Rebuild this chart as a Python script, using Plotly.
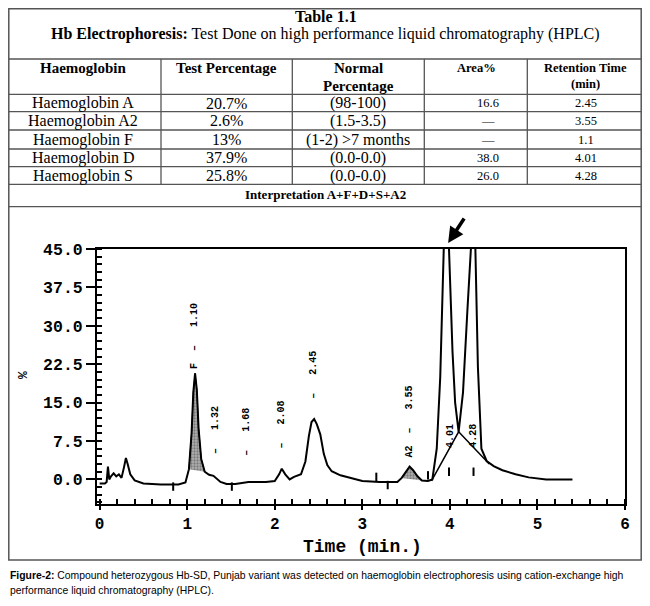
import numpy as np
import plotly.graph_objects as go

# ---- table data ----
table_title = "Table 1.1"
table_subtitle = "<b>Hb Electrophoresis:</b> Test Done on high performance liquid chromatography (HPLC)"
col_headers = ["Haemoglobin", "Test Percentage", "Normal<br>Percentage", "Area%", "Retention Time<br>(min)"]
hb_types = ["Haemoglobin A", "Haemoglobin A2", "Haemoglobin F", "Haemoglobin D", "Haemoglobin S"]
test_pct = ["20.7%", "2.6%", "13%", "37.9%", "25.8%"]
normal_pct = ["(98-100)", "(1.5-3.5)", "(1-2) >7 months", "(0.0-0.0)", "(0.0-0.0)"]
area_pct = ["16.6", "\u2014", "\u2014", "38.0", "26.0"]
retention_min = ["2.45", "3.55", "1.1", "4.01", "4.28"]
interpretation = "Interpretation A+F+D+S+A2"

# ---- chromatogram data ----
time_min = [0.00, 0.06, 0.08, 0.095, 0.11, 0.13, 0.16, 0.19, 0.22, 0.25, 0.28, 0.30, 0.32, 0.35,
            0.40, 0.50, 0.70, 0.90, 0.98, 1.02, 1.05, 1.07, 1.09, 1.11, 1.13, 1.16, 1.20, 1.25,
            1.30, 1.33, 1.38, 1.45, 1.55, 1.70, 1.90, 2.00, 2.05, 2.08, 2.12, 2.17, 2.22, 2.30,
            2.35, 2.39, 2.42, 2.45, 2.48, 2.52, 2.56, 2.60, 2.65, 2.75, 2.85, 3.00, 3.20, 3.40,
            3.45, 3.50, 3.54, 3.58, 3.63, 3.68, 3.75, 3.80, 3.85, 3.89, 3.93, 3.96, 3.99, 4.03,
            4.06, 4.10, 4.15, 4.20, 4.24, 4.26, 4.29, 4.32, 4.36, 4.42, 4.50, 4.60, 4.75, 4.90,
            5.10, 5.40]
signal_pct = [-0.8, -0.8, -0.5, 2.5, 0.0, 0.6, 1.2, 0.6, 1.0, 0.3, 2.5, 4.2, 3.0, 1.0,
              -0.2, -0.8, -1.0, -1.0, -0.6, 2.0, 9.0, 17.0, 20.7, 17.5, 10.0, 4.0, 1.5, 0.9,
              0.7, 0.3, -0.5, -0.9, -0.9, -0.5, -0.5, -0.3, 1.0, 2.1, 1.0, 0.0, 0.5, 1.0,
              3.5, 8.5, 11.2, 11.8, 10.8, 8.8, 5.0, 2.8, 1.6, 0.8, 0.3, -0.3, -0.5, -0.5,
              0.3, 1.6, 2.5, 1.8, 0.6, -0.2, -0.3, 0.0, 6.0, 20.0, 45.0, 80.0, 45.0, 25.0,
              15.0, 9.3, 17.0, 33.0, 45.0, 70.0, 45.0, 22.0, 6.0, 3.6, 2.6, 1.8, 1.0, 0.4,
              0.0, 0.0]

skim_t = [3.79, 4.10, 4.45]
skim_y = [-0.3, 9.3, 3.0]

mark_t = [0.84, 1.51, 3.16, 3.29, 3.75, 3.99, 4.27]
mark_y = [-1.4, -1.4, 0.5, -1.1, 0.8, 1.5, 1.5]

NB = "\u00a0"
peak_labels = ["F" + NB * 2 + "\u2013" + NB * 3 + "1.10", "\u2013" + NB * 3 + "1.32",
               "\u2013" + NB * 3 + "1.68", "\u2013" + NB * 3 + "2.08", "\u2013" + NB * 3 + "2.45",
               "A2" + NB * 2 + "\u2013" + NB * 3 + "3.55", "4.01", "4.28"]
label_t = [1.09, 1.33, 1.68, 2.08, 2.44, 3.54, 4.00, 4.27]
label_y = [21.2, 4.6, 4.2, 5.6, 15.4, 3.8, 5.7, 5.7]

caption_1 = ("<b>Figure-2:</b> Compound heterozygous Hb-SD, Punjab variant was detected on haemoglobin "
             "electrophoresis using cation-exchange high")
caption_2 = "performance liquid chromatography (HPLC)."

# the page body adds an 8px margin, so the figure is 16px smaller than the window
OFF = 8
W, H = 650 - 2 * OFF, 606 - 2 * OFF


def px(x):
    return (x - OFF) / W


def py(y):
    return 1 - (y - OFF) / H


serif = "Liberation Serif, Times New Roman, serif"
mono = "Liberation Mono, Courier New, monospace"
narrow = "Liberation Sans Narrow, Arial Narrow, Liberation Sans, sans-serif"

fig = go.Figure()

t_arr = np.array(time_min)
s_arr = np.array(signal_pct)
for lo, hi in [(1.0, 1.21), (3.44, 3.69)]:
    m = (t_arr >= lo) & (t_arr <= hi)
    fig.add_trace(go.Scatter(x=t_arr[m], y=s_arr[m], mode="lines", fill="toself",
                             line=dict(color="black", width=1),
                             fillcolor="#aaaaaa",
                             fillpattern=dict(shape=".", fgcolor="#444444", bgcolor="#b0b0b0",
                                              size=3, solidity=0.45),
                             showlegend=False, hoverinfo="skip"))

fig.add_trace(go.Scatter(x=time_min, y=signal_pct, mode="lines",
                         line=dict(color="black", width=2), showlegend=False))
fig.add_trace(go.Scatter(x=skim_t, y=skim_y, mode="lines",
                         line=dict(color="black", width=1.5), showlegend=False))
fig.add_trace(go.Scatter(x=mark_t, y=mark_y, mode="markers",
                         marker=dict(symbol="line-ns", size=6, line=dict(width=2, color="black")),
                         showlegend=False))

ann = []
for txt, t, y in zip(peak_labels, label_t, label_y):
    ann.append(dict(x=t, y=y, xref="x", yref="y", text=txt, textangle=-90, showarrow=False,
                    xanchor="center", yanchor="bottom",
                    font=dict(family=mono, size=10, color="black", weight="bold")))

# arrow over the D peak
ann.append(dict(x=3.98, y=py(243), xref="x", yref="paper", text="", showarrow=True, arrowhead=2,
                arrowsize=0.9, arrowwidth=3.5, arrowcolor="black", ax=17, ay=-26))


def note(x, y, text, font, **kw):
    d = dict(x=px(x), y=py(y), xref="paper", yref="paper", text=text, showarrow=False,
             xanchor="center", yanchor="middle", font=font)
    d.update(kw)
    ann.append(d)


# axis labels
note(23, 375, "%", dict(family=mono, size=13, color="black", weight="bold"), textangle=-90)
note(362, 547, "Time (min.)", dict(family=mono, size=18, color="black", weight="bold"))

# ---- table drawing ----
shapes = [dict(type="rect", xref="paper", yref="paper", x0=px(OFF + 0.8), x1=px(650 - OFF - 0.8),
               y0=py(OFF + 0.8), y1=py(560), line=dict(color="#555555", width=1.5))]
for yy in [59, 94.3, 111.7, 130, 149, 166.7, 184.3, 206.7]:
    shapes.append(dict(type="line", xref="paper", yref="paper", x0=px(OFF + 0.8), x1=px(650 - OFF - 0.8),
                       y0=py(yy), y1=py(yy), line=dict(color="#555555", width=1.3)))
for xx in [161, 292.3, 424.3, 527.3]:
    shapes.append(dict(type="line", xref="paper", yref="paper", x0=px(xx), x1=px(xx),
                       y0=py(59), y1=py(184.3), line=dict(color="#555555", width=1.3)))

note(326, 16, "<b>" + table_title + "</b>", dict(family=serif, size=16, color="black"))
note(325, 34, table_subtitle, dict(family=serif, size=16, color="black"))

col_centers = [83, 226.7, 358, 476, 585.6]
head_sizes = [15, 15, 15, 12.5, 12.5]
head_line_y = [[68, 86], [68, 86], [68, 86], [68, 84], [68, 84]]
for cx, txt, fs, ys in zip(col_centers, col_headers, head_sizes, head_line_y):
    for part, hy in zip(txt.split("<br>"), ys):
        note(cx, hy, "<b>" + part + "</b>", dict(family=serif, size=fs, color="black"))

row_centers = [103, 120.8, 139.5, 157.8, 175.5]
value_centers = [83, 226.7, 358, 488, 585.6]
columns = [hb_types, test_pct, normal_pct, area_pct, retention_min]
body_sizes = [16, 16, 16, 12.5, 12.5]
for cx, col, fs in zip(value_centers, columns, body_sizes):
    for ry, txt in zip(row_centers, col):
        note(cx, ry, txt, dict(family=serif, size=fs, color="black"))

note(325, 194, "<b>" + interpretation + "</b>", dict(family=serif, size=13, color="black"))

note(OFF, 575, caption_1, dict(family=narrow, size=10.4, color="black"), xanchor="left")
note(OFF, 590, caption_2, dict(family=narrow, size=10.4, color="black"), xanchor="left")

fig.update_layout(
    width=W, height=H, autosize=False,
    margin=dict(l=0, r=0, t=0, b=0),
    paper_bgcolor="white", plot_bgcolor="white",
    showlegend=False,
    shapes=shapes, annotations=ann,
    xaxis=dict(domain=[px(97), px(625)], range=[-0.03, 6.0], tickvals=[0, 1, 2, 3, 4, 5, 6],
               automargin=False,
               showgrid=False, zeroline=False, showline=True, mirror=True,
               linecolor="black", linewidth=2,
               ticks="outside", ticklen=4, tickwidth=2, tickcolor="black",
               minor=dict(dtick=0.2, ticks="inside", ticklen=5, tickwidth=2, tickcolor="black"),
               tickfont=dict(family=mono, size=16, color="black", weight="bold")),
    yaxis=dict(domain=[py(504), py(249)], range=[-4.8, 45], tickvals=[0, 7.5, 15, 22.5, 30, 37.5, 45],
               tickformat=".1f", automargin=False,
               showgrid=False, zeroline=False, showline=True, mirror=True,
               linecolor="black", linewidth=2,
               ticks="outside", ticklen=9, tickwidth=2, tickcolor="black",
               minor=dict(dtick=1.5, tick0=0, ticks="inside", ticklen=5, tickwidth=2, tickcolor="black"),
               tickfont=dict(family=mono, size=16.5, color="black", weight="bold")),
)

fig.write_html("out.html")
